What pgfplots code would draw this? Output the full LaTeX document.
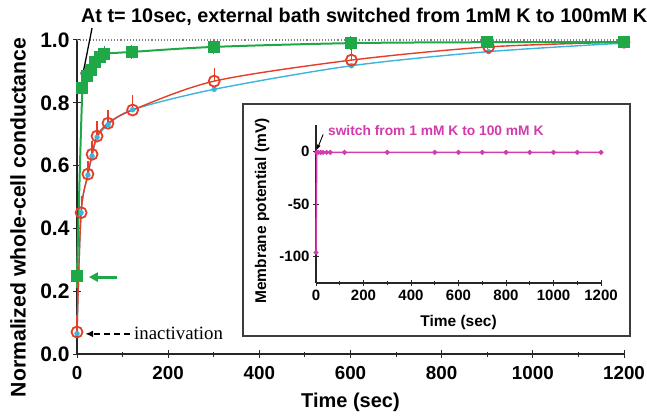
\documentclass[border=0pt]{standalone}
\usepackage{pgfplots}
\pgfplotsset{compat=1.18}
\usepackage{fontspec}
\setmainfont{Liberation Sans}
\newfontfamily\seriffont{Liberation Serif}
\usetikzlibrary{arrows.meta}
\definecolor{cgreen}{RGB}{30,168,72}
\definecolor{cred}{RGB}{228,62,40}
\definecolor{ccyan}{RGB}{60,180,220}
\definecolor{cmag}{RGB}{210,60,170}
\definecolor{cframe}{RGB}{60,60,60}
\begin{document}
\begin{tikzpicture}
\useasboundingbox (0,0) rectangle (647pt,416pt);
\begin{axis}[
  scale only axis, width=547pt, height=314pt,
  at={(77pt,62pt)}, anchor=south west,
  xmin=0, xmax=1200, ymin=0, ymax=1,
  axis x line*=bottom, axis y line*=left,
  clip=false,
  xtick={0,200,400,600,800,1000,1200}, minor x tick num=1,
  xticklabels={\textbf{0},\textbf{200},\textbf{400},\textbf{600},\textbf{800},\textbf{1000},\textbf{1200}},
  ytick={0,0.2,0.4,0.6,0.8,1.0},
  yticklabels={\textbf{0.0},\textbf{0.2},\textbf{0.4},\textbf{0.6},\textbf{0.8},\textbf{1.0}},
  tick align=center, major tick length=8pt, minor tick length=5pt,
  every tick/.style={black!85, line width=1pt},
  axis line style={line width=1.2pt, black!85},
  yticklabel style={font=\fontsize{21}{24}\selectfont\bfseries},
  xticklabel style={font=\fontsize{18.8}{22}\selectfont\bfseries, yshift=-5pt},
  xlabel={Time (sec)}, ylabel={Normalized whole-cell conductance},
  xlabel style={font=\fontsize{20}{24}\selectfont\bfseries, at={(axis description cs:0.5,-0.153)}, anchor=center},
  ylabel style={font=\fontsize{21.2}{24}\selectfont\bfseries, at={(axis description cs:-0.108,0.435)}, anchor=center},
]
\draw[gray, dotted, line width=1.1pt] (axis cs:0,1) -- (axis cs:1215,1);
% cyan
\addplot[ccyan, line width=1.4pt, smooth, tension=0.5, mark=*, mark size=2pt, mark options={solid, ccyan}] coordinates {
(0,0.065) (9,0.45) (24,0.57) (33,0.63) (44,0.69) (68,0.73) (122,0.778) (301,0.843) (602,0.918) (903,0.963) (1200,0.99)};
% red
\addplot[cred, line width=1.4pt, smooth, tension=0.5, mark=o, mark size=5.5pt, mark options={solid, line width=1.8pt},
  error bars/.cd, y dir=plus, y explicit, error bar style={line width=1.2pt, cred}, error mark options={line width=1.2pt, mark size=4pt, cred}]
coordinates {
(0,0.07) +- (0,0.04)
(9,0.45) +- (0,0.04)
(24,0.573) +- (0,0.03)
(33,0.636) +- (0,0.03)
(44,0.694) +- (0,0.035)
(68,0.735) +- (0,0.03)
(122,0.777) +- (0,0.035)
(301,0.869) +- (0,0.03)
(602,0.936) +- (0,0.025)
(903,0.978) +- (0,0.015)
(1200,0.993) +- (0,0.005)};
% green
\addplot[cgreen, line width=2pt, smooth, tension=0.5, mark=square*, mark size=5pt, mark options={solid, cgreen},
  error bars/.cd, y dir=both, y explicit, error bar style={line width=1.2pt, cgreen}, error mark options={line width=1.2pt, mark size=3.5pt, cgreen}]
coordinates {
(0,0.25) +- (0,0.03)
(12,0.847) +- (0,0.04)
(22,0.885) +- (0,0.025)
(30,0.905) +- (0,0.02)
(40,0.93) +- (0,0.02)
(50,0.946) +- (0,0.015)
(60,0.956) +- (0,0.015)
(120,0.962) +- (0,0.01)
(300,0.978) +- (0,0.01)
(600,0.99) +- (0,0.01)
(900,0.993) +- (0,0.01)
(1200,0.993) +- (0,0.005)};
\draw[-{Latex[length=8pt,width=6pt]}, line width=1.3pt, black] (axis cs:33,1.038) -- (axis cs:10,0.87);
\draw[-{Triangle[length=9pt,width=9pt]}, line width=3pt, cgreen] (axis cs:88,0.245) -- (axis cs:26,0.245);
\draw[dash pattern=on 6pt off 4pt, line width=2pt, -{Latex[length=8pt,width=7pt]}] (axis cs:116,0.064) -- (axis cs:18,0.064);
\node[anchor=west, font=\seriffont\fontsize{18.8}{22}\selectfont, inner sep=0pt] at (axis cs:125,0.066) {inactivation};
\end{axis}
\node[anchor=base west, font=\fontsize{19.8}{22}\selectfont\bfseries, inner sep=0pt] at (81pt,393pt) {At t= 10sec, external bath switched from 1mM K to 100mM K};
\fill[white] (243pt,80pt) rectangle (630pt,312pt);
\draw[cframe, line width=1.5pt] (243pt,80pt) rectangle (630pt,312pt);
\begin{axis}[
  scale only axis, width=285pt, height=158pt,
  at={(316pt,133pt)}, anchor=south west,
  xmin=0, xmax=1200, ymin=-125, ymax=25,
  axis x line*=bottom, axis y line*=left,
  clip=false,
  xtick={0,200,400,600,800,1000,1200}, minor x tick num=1,
  xticklabels={\textbf{0},\textbf{200},\textbf{400},\textbf{600},\textbf{800},\textbf{1000},\textbf{1200}},
  ytick={-100,-50,0},
  yticklabels={\textbf{-100},\textbf{-50},\textbf{0}},
  tick align=center, major tick length=6pt, minor tick length=4pt,
  every tick/.style={black!85, line width=0.9pt},
  axis line style={line width=1.1pt, black!85},
  ticklabel style={font=\fontsize{15}{18}\selectfont\bfseries},
  xlabel={Time (sec)}, ylabel={Membrane potential (mV)},
  xlabel style={font=\fontsize{15.5}{18}\selectfont\bfseries, at={(axis description cs:0.5,-0.247)}, anchor=center},
  ylabel style={font=\fontsize{15.5}{18}\selectfont\bfseries, at={(axis description cs:-0.189,0.456)}, anchor=center},
]
\addplot[cmag, line width=1.5pt, mark=*, mark size=1.6pt, mark options={solid, cmag}] coordinates {
(0,-96) (3,-1) (10,-1) (20,-1) (30,-1) (45,-1) (60,-1) (120,-1) (300,-1) (500,-1) (600,-1) (700,-1) (800,-1) (900,-1) (1000,-1) (1100,-1) (1200,-1)};
\draw[-{Latex[length=5pt,width=4pt]}, line width=0.9pt] (axis cs:30,16) -- (axis cs:4,1.5);
\node[anchor=base west, text=cmag, font=\fontsize{13.8}{16}\selectfont\bfseries, inner sep=0pt] at (axis cs:50,15) {switch from 1 mM K to 100 mM K};
\end{axis}
\end{tikzpicture}
\end{document}
